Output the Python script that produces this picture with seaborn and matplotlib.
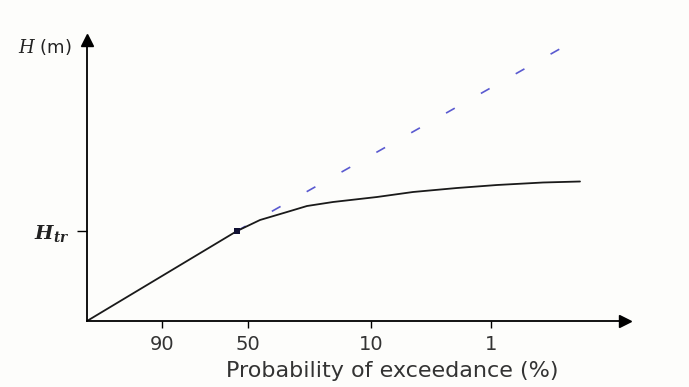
import matplotlib
matplotlib.use("Agg")
import matplotlib.pyplot as plt
import seaborn as sns
import pandas as pd

sns.set_theme(style="white")
plt.rcParams['font.family'] = ['DejaVu Sans']
plt.rcParams['mathtext.fontset'] = 'dejavuserif'

# Horizontal plotting position (axis units) and water level H (axis units)
curve_x = [0, 150, 173, 200, 220, 246, 290, 326, 370, 410, 456, 493]
curve_h = [0, 90, 101, 109, 115, 119, 124, 129, 133, 136, 138.5, 139.5]

extrap_x = [150, 478]
extrap_h = [90, 275]

point_x = [150]
point_h = [90]

xtick_pos = [75, 161, 284, 404]
xtick_labels = ["90", "50", "10", "1"]
ytick_pos = [90]
ytick_labels = [r"$\mathbfit{H}_{\mathbfit{tr}}$"]

W, H = 689, 387
fig = plt.figure(figsize=(W / 100, H / 100), dpi=100)
fig.patch.set_facecolor("#fdfdfb")
x0, y0, x1, y1 = 87, 321, 625, 40
ax = fig.add_axes([x0 / W, (H - y0) / H, (x1 - x0) / W, (y0 - y1) / H])
ax.set_facecolor("none")

df_c = pd.DataFrame({"x": curve_x, "h": curve_h})
df_e = pd.DataFrame({"x": extrap_x, "h": extrap_h})
df_p = pd.DataFrame({"x": point_x, "h": point_h})

sns.lineplot(data=df_e, x="x", y="h", ax=ax, color="#5a5ad0", lw=1.2,
             linestyle=(0, (6, 18)), sort=False)
sns.lineplot(data=df_c, x="x", y="h", ax=ax, color="#1a1a1a", lw=1.3, sort=False)
sns.scatterplot(data=df_p, x="x", y="h", ax=ax, color="#111133", marker="s",
                s=24, linewidth=0, zorder=5)

ax.set_xlim(0, x1 - x0)
ax.set_ylim(0, y0 - y1)
for s in ["top", "right"]:
    ax.spines[s].set_visible(False)
for s in ["left", "bottom"]:
    ax.spines[s].set_color("black")
    ax.spines[s].set_linewidth(1.3)

# arrow heads at axis ends
ax.plot(1, 0, ">", color="black", markersize=8, transform=ax.transAxes, clip_on=False)
ax.plot(0, 1, "^", color="black", markersize=9, transform=ax.transAxes, clip_on=False)

ax.set_xticks(xtick_pos)
ax.set_xticklabels(xtick_labels, fontsize=14, color="#333333")
ax.set_yticks(ytick_pos)
ax.set_yticklabels(ytick_labels, fontsize=14, color="#222222")
ax.tick_params(axis="x", direction="out", length=5, width=1, color="black", pad=5, bottom=True)
ax.tick_params(axis="y", direction="out", length=7, width=1, color="black", pad=6, left=True)

ax.set_xlabel("Probability of exceedance (%)", fontsize=16, color="#333333", labelpad=0)
ax.xaxis.label.set_va("center")
ax.xaxis.set_label_coords((392 - x0) / (x1 - x0), -(371 - y0) / (y0 - y1))
ax.set_ylabel("")
fig.text(18 / W, 1 - 47 / H, r"$H$ (m)", fontsize=13, color="#222222", va="center", ha="left")

fig.savefig("out.png", dpi=100, facecolor=fig.get_facecolor())
